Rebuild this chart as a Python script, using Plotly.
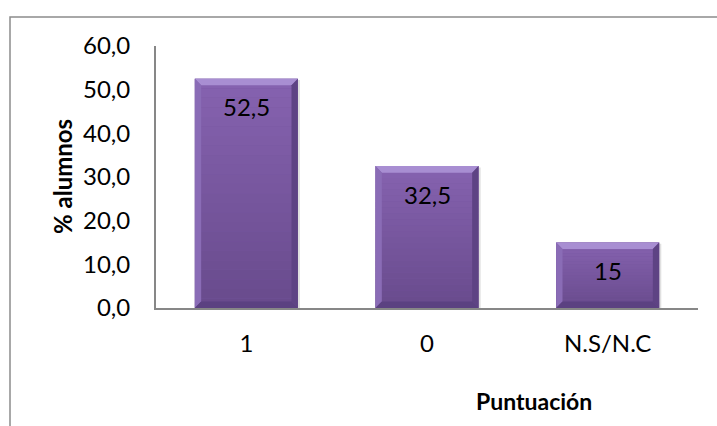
import plotly.graph_objects as go

# Score categories and share of students (%)
categories = ["1", "0", "N.S/N.C"]
values = [52.5, 32.5, 15]
y_ticks = [0, 10, 20, 30, 40, 50, 60]

FONT = "Lato"
BAR_W = 0.57
FILL_TOP = (134, 99, 176)
FILL_BOTTOM = (104, 74, 140)
BEVEL_TOP = "#a88ed2"
BEVEL_LEFT = "#8a6cb6"
BEVEL_RIGHT = "#5e4384"
BEVEL_BOTTOM = "#5b4181"
AXIS_GREY = "#878787"
BANDS = 24


def fmt(v):
    return f"{v:g}".replace(".", ",")


def mix(a, b, t):
    return "rgb({},{},{})".format(*(round(a[k] + (b[k] - a[k]) * t) for k in range(3)))


fig = go.Figure()
fig.add_trace(go.Bar(
    x=list(range(len(categories))),
    y=values,
    width=BAR_W,
    marker=dict(color=mix(FILL_TOP, FILL_BOTTOM, 0.5), line=dict(width=0)),
    hoverinfo="skip",
))

# Vertical shading plus bevel facets on each bar (sizes in axis units)
dx = 0.035
dy = 1.5
shapes = []
for i, v in enumerate(values):
    x0, x1 = i - BAR_W / 2, i + BAR_W / 2
    # soft drop shadow
    shapes.append(dict(type="rect", xref="x", yref="y",
                       x0=x0 + 0.008, x1=x1 + 0.012, y0=0, y1=v - 0.3,
                       fillcolor="rgba(0,0,0,0.12)", line=dict(width=0),
                       layer="below"))
    for b in range(BANDS):
        ya = v * b / BANDS
        yb = v * (b + 1) / BANDS
        t = 1 - (b + 0.5) / BANDS
        shapes.append(dict(type="rect", xref="x", yref="y",
                           x0=x0, x1=x1, y0=ya, y1=yb,
                           fillcolor=mix(FILL_TOP, FILL_BOTTOM, t),
                           line=dict(width=0), layer="above"))
    facets = [
        (f"M {x0},{v} L {x1},{v} L {x1-dx},{v-dy} L {x0+dx},{v-dy} Z", BEVEL_TOP),
        (f"M {x0},0 L {x0},{v} L {x0+dx},{v-dy} L {x0+dx},{dy} Z", BEVEL_LEFT),
        (f"M {x1},0 L {x1},{v} L {x1-dx},{v-dy} L {x1-dx},{dy} Z", BEVEL_RIGHT),
        (f"M {x0},0 L {x1},0 L {x1-dx},{dy} L {x0+dx},{dy} Z", BEVEL_BOTTOM),
    ]
    for path, col in facets:
        shapes.append(dict(type="path", path=path, xref="x", yref="y",
                           fillcolor=col, line=dict(width=0), layer="above"))
    fig.add_annotation(x=i, y=v, xref="x", yref="y", text=fmt(v),
                       showarrow=False, yshift=-28,
                       font=dict(family=FONT, size=24, color="#000000"))

# Outer chart frame
shapes.append(dict(type="rect", xref="paper", yref="paper",
                   x0=10 / 717, x1=1.05, y0=-0.05, y1=1 - 17 / 426,
                   line=dict(color="#8c8c8c", width=1.5), layer="below"))

fig.add_annotation(text="<b>% alumnos</b>", xref="paper", yref="paper",
                   x=62 / 717, y=1 - 177 / 426, textangle=-90, showarrow=False,
                   xanchor="center", yanchor="middle",
                   font=dict(family=FONT, size=24, color="#000000"))
fig.add_annotation(text="<b>Puntuación</b>", xref="paper", yref="paper",
                   x=534 / 717, y=1 - 401 / 426, showarrow=False,
                   xanchor="center", yanchor="middle",
                   font=dict(family=FONT, size=23, color="#000000"))

fig.update_layout(
    width=717, height=426,
    margin=dict(l=0, r=0, t=0, b=0),
    paper_bgcolor="white", plot_bgcolor="white",
    separators=",.",
    showlegend=False,
    shapes=shapes,
    font=dict(family=FONT, size=24, color="#000000"),
    xaxis=dict(
        domain=[156 / 717, 698 / 717],
        range=[-0.5, len(categories) - 0.5],
        tickmode="array",
        tickvals=list(range(len(categories))),
        ticktext=categories,
        ticks="outside", ticklen=13, tickcolor="rgba(0,0,0,0)",
        showline=True, linecolor=AXIS_GREY, linewidth=2,
        showgrid=False, zeroline=False, fixedrange=True,
        automargin=False,
    ),
    yaxis=dict(
        domain=[1 - 308 / 426, 1 - 46 / 426],
        range=[0, 60],
        tickmode="array",
        tickvals=y_ticks,
        tickformat=".1f",
        ticks="outside", ticklen=19, tickcolor="rgba(0,0,0,0)",
        showline=True, linecolor=AXIS_GREY, linewidth=2,
        showgrid=False, zeroline=False, fixedrange=True,
        automargin=False,
    ),
)

fig.write_html("out.html")
